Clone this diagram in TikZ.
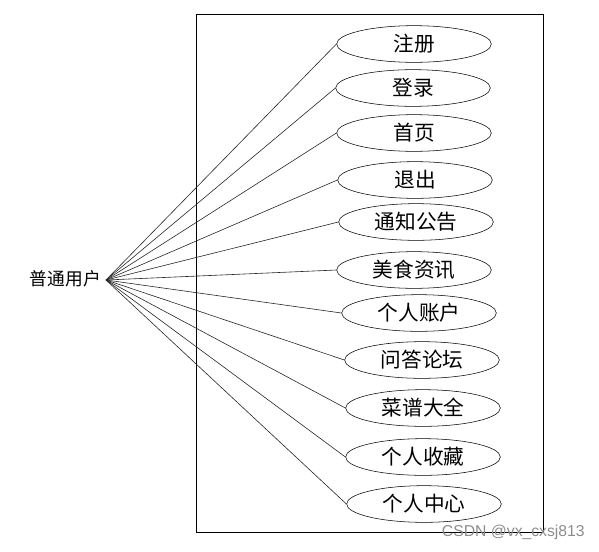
\documentclass[tikz,border=0pt]{standalone}
\usepackage{fontspec}
\newfontfamily\cjk{Noto Sans CJK SC}
\newfontfamily\wmfont{Liberation Sans}
\usetikzlibrary{shapes.geometric}
\tikzset{
  usecase/.style={ellipse, draw=black, fill=white, thin, minimum width=116pt,
    minimum height=27.5pt, inner sep=0pt, font=\cjk\fontsize{15.5}{17}\selectfont},
  actor/.style={font=\cjk\fontsize{13.3}{15}\selectfont, inner sep=0pt},
  assoc/.style={draw=black!85, line width=0.45pt},
  sysbox/.style={draw=black, line width=0.75pt}
}
\begin{document}
\begin{tikzpicture}[x=0.75pt,y=-0.75pt]
    \useasboundingbox (0,0) rectangle (599,551);
    \draw[sysbox] (196,14) rectangle (543,532);
    \node[actor,anchor=east] (user) at (101,279) {普通用户};
    \coordinate (hub) at (106,280);
    \node[usecase] (zc) at (414,44) {注册};
    \node[usecase] (dl) at (413,88) {登录};
    \node[usecase] (sy) at (414,133) {首页};
    \node[usecase] (tc) at (415,180) {退出};
    \node[usecase] (tz) at (416,222) {通知公告};
    \node[usecase] (ms) at (414,270) {美食资讯};
    \node[usecase] (zh) at (419,313) {个人账户};
    \node[usecase] (wd) at (422,360) {问答论坛};
    \node[usecase] (cp) at (423,408) {菜谱大全};
    \node[usecase] (sc) at (423,457) {个人收藏};
    \node[usecase] (zx) at (424,504) {个人中心};
    \draw[assoc](hub)--(zc.west);\draw[assoc](hub)--(dl.west);\draw[assoc](hub)--(sy.west);
    \draw[assoc](hub)--(tc.west);\draw[assoc](hub)--(tz.west);\draw[assoc](hub)--(ms.west);
    \draw[assoc](hub)--(zh.west);\draw[assoc](hub)--(wd.west);\draw[assoc](hub)--(cp.west);
    \draw[assoc](hub)--(sc.west);\draw[assoc](hub)--(zx.west);
    \node[font=\wmfont\fontsize{11.8}{13}\selectfont, text=black!45, anchor=east, inner sep=0pt] (mark) at (585,532) {CSDN @vx\_cxsj813};
  \end{tikzpicture}
\end{document}
